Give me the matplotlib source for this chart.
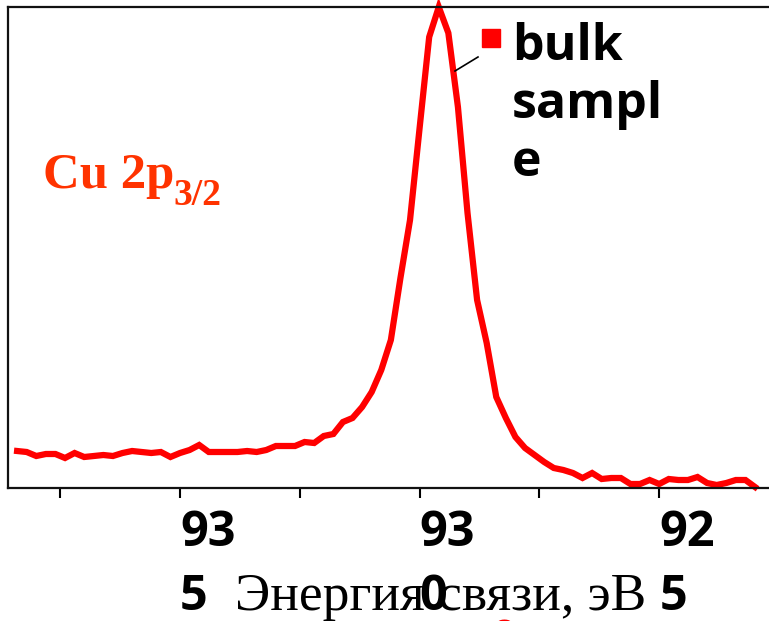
import matplotlib
matplotlib.use("Agg")
import matplotlib.pyplot as plt
from matplotlib.lines import Line2D

# Binding energy (eV) and intensity (arb. units)
energy = [938.4, 938.2, 938.0, 937.8, 937.6, 937.4, 937.2, 937.0, 936.8, 936.6,
          936.4, 936.2, 936.0, 935.8, 935.6, 935.4, 935.2, 935.0, 934.8, 934.6,
          934.4, 934.2, 934.0, 933.8, 933.6, 933.4, 933.2, 933.0, 932.8, 932.6,
          932.4, 932.2, 932.0, 931.8, 931.6, 931.4, 931.2, 931.0, 930.8, 930.6,
          930.4, 930.2, 930.0, 929.8, 929.6, 929.4, 929.2, 929.0, 928.8, 928.6,
          928.4, 928.2, 928.0, 927.8, 927.6, 927.4, 927.2, 927.0, 926.8, 926.6,
          926.4, 926.2, 926.0, 925.8, 925.6, 925.4, 925.2, 925.0, 924.8, 924.6,
          924.4, 924.2, 924.0, 923.8, 923.6, 923.4, 923.2, 923.0]
intensity = [37, 36, 32, 34, 34, 30, 35, 31, 32, 33,
             32, 35, 37, 36, 35, 36, 31, 35, 38, 43,
             36, 36, 36, 36, 37, 36, 38, 42, 42, 42,
             46, 45, 52, 54, 66, 70, 81, 96, 118, 148,
             210, 268, 360, 451, 481, 455, 381, 275, 188, 145,
             91, 70, 51, 40, 33, 26, 20, 18, 15, 10,
             15, 9, 10, 10, 4, 4, 8, 4, 9, 8,
             8, 11, 5, 3, 5, 8, 8, 1]

major_ticks = [935, 930, 925]
major_labels = ["93\n5", "93\n0", "92\n5"]
minor_ticks = [937.5, 932.5, 927.5]

series_label = "bulk\nsampl\ne"
peak_label = "Cu 2p"
peak_sub = "3/2"
xlabel = "Энергия связи, эВ"

W, H = 769, 621
fig = plt.figure(figsize=(W / 100, H / 100), dpi=100)

def fx(px):
    return px / W

def fy(py):
    return 1 - py / H

left, right, top, bottom = 8, 790, 7, 488
ax = fig.add_axes([fx(left), fy(bottom), (right - left) / W, (bottom - top) / H])

ax.plot(energy, intensity, color="#ff0000", lw=4.5, solid_joinstyle="miter",
        clip_on=False)

ax.set_xlim(938.59, 922.27)
ax.set_ylim(0, 481)

ax.set_yticks([])
ax.set_xticks(major_ticks)
ax.set_xticklabels(major_labels, fontfamily="Open Sans", fontweight="bold",
                   fontsize=35, ha="left", multialignment="left",
                   linespacing=1.42)
ax.set_xticks(minor_ticks, minor=True)
ax.tick_params(axis="x", which="both", direction="out", length=7, width=1.5,
               color="black", pad=8)
for s in ["left", "bottom", "top", "right"]:
    ax.spines[s].set_linewidth(1.6)
    ax.spines[s].set_color("#111111")

# Peak annotation text
fig.text(fx(43), fy(188), peak_label, color="#ff3300", fontfamily="Liberation Serif",
         fontweight="bold", fontsize=36.5, ha="left", va="baseline")
fig.text(fx(173), fy(205), peak_sub, color="#ff3300", fontfamily="Liberation Serif",
         fontweight="bold", fontsize=27, ha="left", va="baseline")

# Legend-like label
fig.patches.append(plt.Rectangle((fx(482), fy(47)), 18 / W, 18 / H,
                                 transform=fig.transFigure, color="#ff0000"))
fig.text(fx(512), fy(22), series_label, color="black", fontfamily="Open Sans",
         fontweight="bold", fontsize=36, ha="left", va="top",
         linespacing=1.21)
fig.add_artist(Line2D([fx(478), fx(455)], [fy(57), fy(71)], color="black", lw=1.2,
                      transform=fig.transFigure))

# x axis label
fig.text(fx(235), fy(610), xlabel, color="black", fontfamily="Liberation Serif",
         fontsize=38.5, ha="left", va="baseline")
# partially visible red mark at bottom edge
fig.text(fx(492), fy(641), "о", color="#ff0000", fontfamily="Liberation Serif",
         fontsize=33, ha="left", va="baseline")

fig.savefig("out.png", dpi=100)
